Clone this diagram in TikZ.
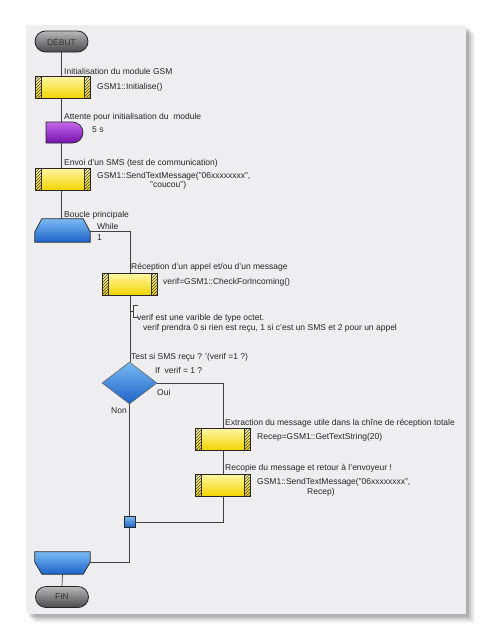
\documentclass[tikz,border=0pt]{standalone}
\usepackage{fontspec}
\setmainfont{Liberation Sans}
\usetikzlibrary{shapes.misc,shapes.geometric,patterns}

\definecolor{panelbg}{HTML}{EEEEF1}
\definecolor{yeltop}{HTML}{FFF7A6}
\definecolor{yelbot}{HTML}{F2D400}
\definecolor{bluetop}{HTML}{78BAF2}
\definecolor{bluebot}{HTML}{1E62C8}
\definecolor{purtop}{HTML}{C468EC}
\definecolor{purbot}{HTML}{7410AC}
\definecolor{termtop}{HTML}{B8B8B8}
\definecolor{termbot}{HTML}{4A4A4A}
\definecolor{txtcol}{HTML}{262626}

\tikzset{
  flow/.style={draw=black!75, line width=0.7pt},
  txt/.style={anchor=west, inner sep=0pt, font=\fontsize{8.5}{10}\selectfont, text=txtcol},
  terminal/.style={rounded rectangle, draw=black!85, line width=0.8pt,
    minimum width=53pt, minimum height=21pt, inner sep=0pt,
    top color=termtop, bottom color=termbot,
    font=\fontsize{8.5}{10}\selectfont, text=black!80},
  process/.style={rectangle, draw=black!85, line width=0.7pt,
    minimum width=55pt, minimum height=22pt, inner sep=0pt,
    top color=yeltop, bottom color=yelbot,
    path picture={
      \fill[pattern=north east lines, pattern color=black!75]
        (path picture bounding box.south west) rectangle
        ([xshift=6pt]path picture bounding box.north west);
      \fill[pattern=north east lines, pattern color=black!75]
        (path picture bounding box.south east) rectangle
        ([xshift=-6pt]path picture bounding box.north east);
      \draw[black!80, line width=0.5pt]
        ([xshift=6pt]path picture bounding box.south west) --
        ([xshift=6pt]path picture bounding box.north west)
        ([xshift=-6pt]path picture bounding box.south east) --
        ([xshift=-6pt]path picture bounding box.north east);
    }},
  delay/.style={rounded rectangle, rounded rectangle left arc=none,
    draw=black!85, line width=0.7pt, minimum width=37pt, minimum height=21pt,
    inner sep=0pt, top color=purtop, bottom color=purbot},
  loopnode/.style={rectangle, minimum width=55pt, minimum height=23pt, inner sep=0pt},
  loopfill/.style={draw=black!85, line width=0.7pt, top color=bluetop, bottom color=bluebot},
  decision/.style={diamond, draw=black!60, line width=0.6pt,
    minimum width=55pt, minimum height=42pt, inner sep=0pt,
    top color=bluetop, bottom color=bluebot},
  junction/.style={rectangle, draw=black!85, line width=0.7pt,
    minimum size=11pt, inner sep=0pt, top color=bluetop, bottom color=bluebot},
}

\begin{document}
\begin{tikzpicture}[x=1pt, y=-1pt]
  \useasboundingbox (0,0) rectangle (492,640);
  \fill[white] (0,0) rectangle (492,640);
  % panel and its shadow
  \foreach \s/\o in {9/0.05, 7/0.08, 5/0.10, 3/0.12} {
    \fill[black, opacity=\o] (26+\s,25+\s) rectangle (466+\s,614+\s);
  }
  \fill[panelbg] (26,25) rectangle (466,614);

  % start and first steps
  \node[terminal] (debut) at (61.5,41.5) {DÉBUT};
  \node[txt] (initlbl) at (64,71) {Initialisation du module GSM};
  \node[process] (init) at (62.5,87) {};
  \node[txt] (initcode) at (97,87) {GSM1::Initialise()};
  \node[txt] (waitlbl) at (64,117) {Attente pour initialisation du\ \ module};
  \node[delay] (wait) at (64.5,132.5) {};
  \node[txt] (waitcode) at (92,130) {5 s};
  \node[txt] (smslbl) at (64,163) {Envoi d'un SMS (test de communication)};
  \node[process] (sms) at (62.5,179) {};
  \node[txt] (smscode) at (97,176) {GSM1::SendTextMessage("06xxxxxxxx",};
  \node[txt] (smscodeb) at (150,185) {"coucou")};

  % main loop
  \node[txt] (looplbl) at (64,215) {Boucle principale};
  \node[loopnode] (loopstart) at (62.5,230.5) {};
  \coordinate (loopout) at ([yshift=-13pt]loopstart.north east);
  \draw[loopfill] ([xshift=7pt]loopstart.north west) -- ([xshift=-7pt]loopstart.north east)
    -- (loopout) -- (loopstart.south east)
    -- (loopstart.south west) -- ([yshift=-13pt]loopstart.north west) -- cycle;
  \node[txt] (whilelbl) at (97,226.5) {While};
  \node[txt] (whilecnt) at (97,237.5) {1};

  \node[txt] (recvlbl) at (131,267) {Réception d'un appel et/ou d'un message};
  \node[process] (recv) at (130,284) {};
  \node[txt] (recvcode) at (163,282) {verif=GSM1::CheckForIncoming()};
  \coordinate (cmt) at (129.5,311);
  \node[txt] (cmta) at (137,318) {verif est une varible de type octet.};
  \node[txt] (cmtb) at (143,328) {verif prendra 0 si rien est reçu, 1 si c'est un SMS et 2 pour un appel};

  \node[txt] (testlbl) at (131,357) {Test si SMS reçu ? '(verif =1 ?)};
  \node[decision] (test) at (129.5,383) {};
  \node[txt] (testcode) at (155,370) {If\ \ verif = 1 ?};
  \node[txt] (oui) at (157,392) {Oui};
  \node[txt] (non) at (111,411) {Non};

  \node[txt] (extractlbl) at (225,423) {Extraction du message utile dans la chîne de réception totale};
  \node[process] (extract) at (223,439) {};
  \node[txt] (extractcode) at (257,437) {Recep=GSM1::GetTextString(20)};
  \node[txt] (replylbl) at (225,468) {Recopie du message et retour à l'envoyeur !};
  \node[process] (reply) at (223,485) {};
  \node[txt] (replycode) at (257,482) {GSM1::SendTextMessage("06xxxxxxxx",};
  \node[txt] (replycodeb) at (307,492) {Recep)};

  \node[junction] (join) at (129.5,522) {};
  \node[loopnode, minimum height=22pt] (loopend) at (62.5,563) {};
  \coordinate (loopin) at ([yshift=12pt]loopend.south east);
  \draw[loopfill] (loopend.north west) -- (loopend.north east)
    -- (loopin) -- ([xshift=-7pt]loopend.south east)
    -- ([xshift=7pt]loopend.south west) -- ([yshift=12pt]loopend.south west) -- cycle;
  \node[terminal] (fin) at (62,597) {FIN};

  % connectors
  \draw[flow] (debut.south) -- (debut.south |- init.north);
  \draw[flow] (debut.south |- init.south) -- (debut.south |- wait.north);
  \draw[flow] (debut.south |- wait.south) -- (debut.south |- sms.north);
  \draw[flow] (debut.south |- sms.south) -- (debut.south |- loopstart.north);
  \draw[flow] (loopout) -| (recv.north);
  \draw[flow] (recv.south) -- (recv.south |- test.north);
  \draw[flow] (cmt) -- ++(4,0) ++(4,-6) -- ++(-4,0) -- ++(0,12) -- ++(4,0);
  \draw[flow] (test.east) -| (extract.north);
  \draw[flow] (extract.south) -- (reply.north);
  \draw[flow] (reply.south) |- (join.east);
  \draw[flow] (test.south) -- (join.north);
  \draw[flow] (join.south) |- (loopin);
  \draw[flow] (loopend.south) -- (fin.north);
\end{tikzpicture}
\end{document}
